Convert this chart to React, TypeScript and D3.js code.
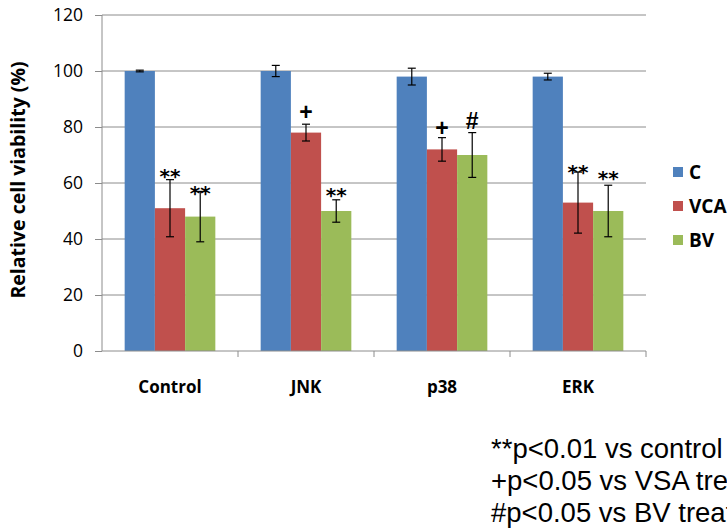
import React, { useEffect, useRef } from "react";
import * as d3 from "d3";

const categories = ["Control", "JNK", "p38", "ERK"];
const seriesNames = ["C", "VCA", "BV"];
const seriesColors = ["#4F81BD", "#C0504D", "#9BBB59"];

// values per series, one entry per category
const cValues = [100, 100, 98, 98];
const vcaValues = [51, 78, 72, 53];
const bvValues = [48, 50, 70, 50];

const cErrors = [0.3, 2, 3, 1.2];
const vcaErrors = [10.2, 3, 4.2, 10.9];
const bvErrors = [9, 4, 8, 9.2];

// significance marks and their height (value units)
const vcaMarks = ["**", "+", "+", "**"];
const vcaMarkAt = [64.3, 85.4, 79.6, 65.8];
const bvMarks = ["**", "**", "#", "**"];
const bvMarkAt = [58.2, 57.5, 82.2, 63.6];

const yTicks = [0, 20, 40, 60, 80, 100, 120];

const footnotes = [
  "**p<0.01 vs control",
  "+p<0.05 vs VSA treatment",
  "#p<0.05 vs BV treatment",
];

const chartFont = "'Open Sans', 'Noto Sans', sans-serif";

export default function App() {
  const ref = useRef<SVGSVGElement>(null);

  useEffect(() => {
    const svg = d3.select(ref.current);
    svg.selectAll("*").remove();

    const left = 102, right = 646, top = 15, bottom = 351;

    const x = d3.scaleBand().domain(categories).range([left, right]);
    const inner = d3
      .scaleBand()
      .domain(seriesNames)
      .range([0, x.bandwidth()])
      .paddingOuter(0.75)
      .paddingInner(0);
    const y = d3.scaleLinear().domain([0, 120]).range([bottom, top]);

    // gridlines
    svg
      .append("g")
      .selectAll("line")
      .data(yTicks.slice(1))
      .join("line")
      .attr("x1", left)
      .attr("x2", right)
      .attr("y1", (d) => y(d))
      .attr("y2", (d) => y(d))
      .attr("stroke", "#8c8c8c")
      .attr("stroke-width", 1);

    const values = [cValues, vcaValues, bvValues];
    const errors = [cErrors, vcaErrors, bvErrors];

    const rows = categories.flatMap((cat, i) =>
      seriesNames.map((s, j) => ({
        cat,
        s,
        j,
        v: values[j][i],
        e: errors[j][i],
      }))
    );

    svg
      .append("g")
      .selectAll("rect")
      .data(rows)
      .join("rect")
      .attr("x", (d) => x(d.cat)! + inner(d.s)!)
      .attr("width", inner.bandwidth())
      .attr("y", (d) => y(d.v))
      .attr("height", (d) => y(0) - y(d.v))
      .attr("fill", (d) => seriesColors[d.j]);

    // error bars
    const eb = svg
      .append("g")
      .attr("stroke", "#000")
      .attr("stroke-width", 1.2)
      .selectAll("g")
      .data(rows)
      .join("g")
      .attr(
        "transform",
        (d) => `translate(${x(d.cat)! + inner(d.s)! + inner.bandwidth() / 2},0)`
      );
    eb.append("line")
      .attr("y1", (d) => y(d.v + d.e))
      .attr("y2", (d) => y(d.v - d.e));
    eb.append("line")
      .attr("x1", -4)
      .attr("x2", 4)
      .attr("y1", (d) => y(d.v + d.e))
      .attr("y2", (d) => y(d.v + d.e));
    eb.append("line")
      .attr("x1", -4)
      .attr("x2", 4)
      .attr("y1", (d) => y(d.v - d.e))
      .attr("y2", (d) => y(d.v - d.e));

    // marks
    const marks = categories.flatMap((cat, i) => [
      { cat, s: "VCA", t: vcaMarks[i], at: vcaMarkAt[i] },
      { cat, s: "BV", t: bvMarks[i], at: bvMarkAt[i] },
    ]);
    svg
      .append("g")
      .selectAll("text")
      .data(marks)
      .join("text")
      .attr("x", (d) => x(d.cat)! + inner(d.s)! + inner.bandwidth() / 2)
      .attr("y", (d) => y(d.at))
      .attr("dy", (d) => (d.t === "**" ? "0.62em" : "0.36em"))
      .attr("text-anchor", "middle")
      .attr("font-family", (d) =>
        d.t === "**" ? "'DejaVu Sans', sans-serif" : "'Liberation Sans', Arial, sans-serif"
      )
      .attr("font-weight", "bold")
      .attr("font-size", (d) => (d.t === "**" ? 20 : 23))
      .text((d) => d.t);

    // y axis
    const yAxis = svg
      .append("g")
      .attr("transform", `translate(${left},0)`)
      .call(d3.axisLeft(y).tickValues(yTicks).tickSize(7).tickPadding(12));
    yAxis.select(".domain").attr("stroke", "#8c8c8c").attr("d", `M0,${top}V${bottom}`);
    yAxis.selectAll(".tick line").attr("stroke", "#8c8c8c");
    yAxis
      .selectAll(".tick text")
      .attr("font-family", chartFont)
      .attr("font-size", 17.5)
      .attr("fill", "#000");

    // x axis
    svg
      .append("line")
      .attr("x1", left)
      .attr("x2", right)
      .attr("y1", bottom)
      .attr("y2", bottom)
      .attr("stroke", "#8c8c8c");
    svg
      .append("g")
      .selectAll("line")
      .data(categories)
      .join("line")
      .attr("x1", (d) => x(d)! + x.bandwidth())
      .attr("x2", (d) => x(d)! + x.bandwidth())
      .attr("y1", bottom)
      .attr("y2", bottom + 6)
      .attr("stroke", "#8c8c8c");
    svg
      .append("g")
      .selectAll("text")
      .data(categories)
      .join("text")
      .attr("x", (d) => x(d)! + x.bandwidth() / 2)
      .attr("y", 393)
      .attr("text-anchor", "middle")
      .attr("font-family", chartFont)
      .attr("font-weight", "bold")
      .attr("font-size", 17)
      .text((d) => d);

    // y title
    svg
      .append("text")
      .attr("transform", "translate(25,180) rotate(-90)")
      .attr("text-anchor", "middle")
      .attr("font-family", chartFont)
      .attr("font-weight", "bold")
      .attr("font-size", 19.5)
      .text("Relative cell viability (%)");

    // legend
    const lg = svg
      .append("g")
      .selectAll("g")
      .data(seriesNames)
      .join("g")
      .attr("transform", (_, i) => `translate(673,${172 + i * 34})`);
    lg.append("rect")
      .attr("x", 0)
      .attr("y", -5)
      .attr("width", 10)
      .attr("height", 10)
      .attr("fill", (_, i) => seriesColors[i]);
    lg.append("text")
      .attr("x", 16)
      .attr("dy", "0.36em")
      .attr("font-family", chartFont)
      .attr("font-weight", "bold")
      .attr("font-size", 19)
      .text((d) => d);

    // footnotes
    svg
      .append("g")
      .selectAll("text")
      .data(footnotes)
      .join("text")
      .attr("x", 491)
      .attr("y", (_, i) => 458 + i * 32)
      .attr("font-family", "'Liberation Sans', Arial, sans-serif")
      .attr("font-size", 27.5)
      .text((d) => d);
  }, []);

  return (
    <div style={{ position: "absolute", left: 0, top: 0 }}>
      <svg ref={ref} width={727} height={532} style={{ display: "block", background: "#fff" }} />
    </div>
  );
}
